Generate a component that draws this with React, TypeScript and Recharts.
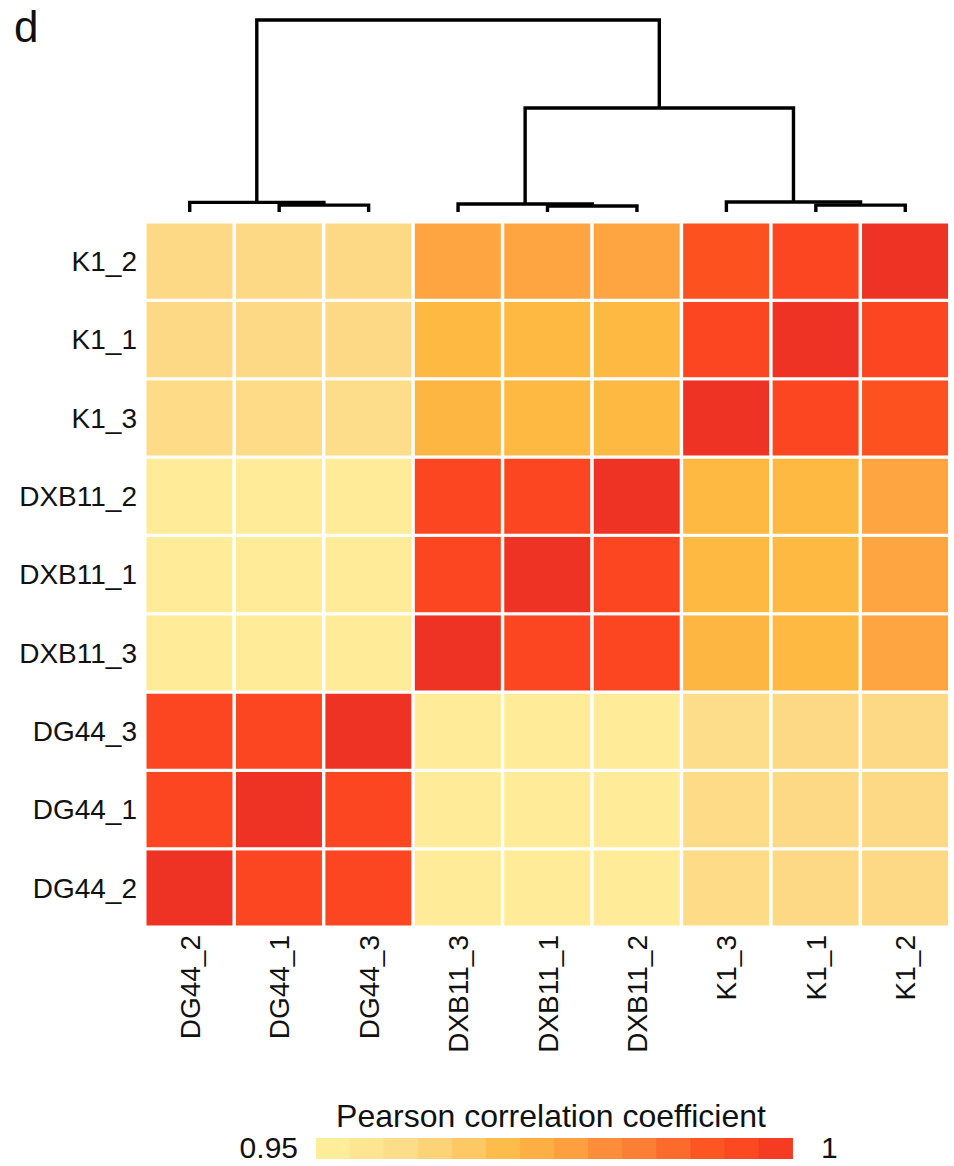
import React from 'react'
import { BarChart, Bar, Cell, XAxis, YAxis, LineChart, Line } from 'recharts'

// sample order (same for columns left->right and rows bottom->top)
const samples = ['DG44_2', 'DG44_1', 'DG44_3', 'DXB11_3', 'DXB11_1', 'DXB11_2', 'K1_3', 'K1_1', 'K1_2']

// Pearson correlation, corr[row][col], rows from bottom to top
const corr = [
  [1.000, 0.996, 0.996, 0.951, 0.951, 0.951, 0.959, 0.960, 0.960],
  [0.996, 1.000, 0.996, 0.951, 0.951, 0.951, 0.959, 0.960, 0.960],
  [0.996, 0.996, 1.000, 0.951, 0.951, 0.951, 0.958, 0.960, 0.960],
  [0.951, 0.951, 0.951, 1.000, 0.996, 0.996, 0.971, 0.970, 0.976],
  [0.951, 0.951, 0.951, 0.996, 1.000, 0.996, 0.970, 0.970, 0.976],
  [0.951, 0.951, 0.951, 0.996, 0.996, 1.000, 0.970, 0.970, 0.976],
  [0.959, 0.959, 0.958, 0.971, 0.970, 0.970, 1.000, 0.996, 0.993],
  [0.960, 0.960, 0.960, 0.970, 0.970, 0.970, 0.996, 1.000, 0.996],
  [0.960, 0.960, 0.960, 0.976, 0.976, 0.976, 0.993, 0.996, 1.000],
]

// hierarchical clustering merges: [nodeA, nodeB, height]; leaves 0..8, new nodes 9..
const merges: [number, number, number][] = [
  [1, 2, 0.036],
  [0, 9, 0.05],
  [4, 5, 0.031],
  [3, 11, 0.042],
  [7, 8, 0.036],
  [6, 13, 0.052],
  [12, 14, 0.542],
  [10, 15, 1.0],
]

const colorStops = [0.95, 0.96, 0.97, 0.976, 0.985, 0.993, 0.996, 1.0]
const colorHex = ['#FFED9A', '#FDD985', '#FEB943', '#FEA542', '#FD7A33', '#FD5120', '#FC4521', '#EE3224']

const legendSteps = [0.950, 0.954, 0.958, 0.962, 0.965, 0.969, 0.973, 0.977, 0.981, 0.984, 0.988, 0.992, 0.995, 0.998]

const FONT = '"Liberation Sans", Arial, Helvetica, sans-serif'

const rgb = (h: string) => [1, 3, 5].map((i) => parseInt(h.slice(i, i + 2), 16))

function colorFor(v: number) {
  if (v <= colorStops[0]) return colorHex[0]
  for (let i = 1; i < colorStops.length; i++) {
    if (v <= colorStops[i]) {
      const t = (v - colorStops[i - 1]) / (colorStops[i] - colorStops[i - 1])
      const a = rgb(colorHex[i - 1])
      const b = rgb(colorHex[i])
      const c = a.map((x, k) => Math.round(x + (b[k] - x) * t))
      return `rgb(${c[0]},${c[1]},${c[2]})`
    }
  }
  return colorHex[colorHex.length - 1]
}

// build dendrogram link polylines
const nodeX: number[] = samples.map((_, i) => i)
const nodeH: number[] = samples.map(() => 0)
const links = merges.map(([a, b, h]) => {
  const pts = [
    { x: nodeX[a], y: nodeH[a] },
    { x: nodeX[a], y: h },
    { x: nodeX[b], y: h },
    { x: nodeX[b], y: nodeH[b] },
  ]
  nodeX.push((nodeX[a] + nodeX[b]) / 2)
  nodeH.push(h)
  return pts
})

const heatData = samples.map((name) => {
  const row: any = { name }
  samples.forEach((_, i) => { row['r' + i] = 1 })
  return row
})

const legendData = legendSteps.map((v) => ({ v, one: 1 }))

const ColTick = ({ x, y, payload }: any) => (
  <g transform={`translate(${x},${y})`}>
    <text transform="rotate(-90)" textAnchor="end" dy="0.36em" fontSize={28} fill="#111" fontFamily={FONT}>
      {payload.value}
    </text>
  </g>
)

export default function App() {
  return (
    <div style={{ position: 'absolute', left: 0, top: 0, width: 954, height: 1166, background: '#fff' }}>
      <div style={{ position: 'absolute', left: 0, top: 0 }}>
        <LineChart width={954} height={232} margin={{ top: 20, right: 4, bottom: 20, left: 145 }}>
          <XAxis type="number" dataKey="x" domain={[-0.5, 8.5]} hide />
          <YAxis type="number" domain={[0, 1]} hide />
          {links.map((pts, k) => (
            <Line
              key={k}
              data={pts}
              dataKey="y"
              type="linear"
              stroke="#000"
              strokeWidth={3.4}
              dot={false}
              activeDot={false}
              isAnimationActive={false}
            />
          ))}
        </LineChart>
      </div>

      <div style={{ position: 'absolute', left: 0, top: 0 }}>
        <BarChart width={954} height={1080} data={heatData} barCategoryGap={0} barGap={0}
          margin={{ top: 222, right: 4, bottom: 0, left: 0 }}>
          <XAxis dataKey="name" type="category" height={153} tickLine={false} axisLine={false}
            interval={0} tick={<ColTick />} />
          <YAxis type="number" width={145} domain={[0, 9]} ticks={[0.5, 1.5, 2.5, 3.5, 4.5, 5.5, 6.5, 7.5, 8.5]}
            tickFormatter={(v: number) => samples[Math.floor(v)]} tickLine={false} axisLine={false}
            tick={{ fontSize: 28, fill: '#111', fontFamily: FONT }} />
          {samples.map((_, i) => (
            <Bar key={i} dataKey={'r' + i} stackId="s" stroke="#fff" strokeWidth={3} isAnimationActive={false}>
              {samples.map((__, j) => (
                <Cell key={j} fill={colorFor(corr[i][j])} />
              ))}
            </Bar>
          ))}
        </BarChart>
      </div>

      <div style={{ position: 'absolute', left: 316, top: 1138 }}>
        <BarChart width={477} height={21} data={legendData} barCategoryGap={0} barGap={0}
          margin={{ top: 0, right: 0, bottom: 0, left: 0 }}>
          <XAxis dataKey="v" type="category" hide />
          <YAxis type="number" domain={[0, 1]} hide />
          <Bar dataKey="one" isAnimationActive={false}>
            {legendData.map((d, k) => (
              <Cell key={k} fill={colorFor(d.v)} stroke={colorFor(d.v)} strokeWidth={1} />
            ))}
          </Bar>
        </BarChart>
      </div>

      <svg width={954} height={1166} style={{ position: 'absolute', left: 0, top: 0, pointerEvents: 'none' }}>
        <text x={14} y={42} fontSize={44} fill="#111" fontFamily={FONT}>d</text>
        <text x={551} y={1127} fontSize={32} fill="#111" fontFamily={FONT} textAnchor="middle">
          Pearson correlation coefficient
        </text>
        <text x={298} y={1158} fontSize={30} fill="#111" fontFamily={FONT} textAnchor="end">0.95</text>
        <text x={821} y={1158} fontSize={30} fill="#111" fontFamily={FONT}>1</text>
      </svg>
    </div>
  )
}
